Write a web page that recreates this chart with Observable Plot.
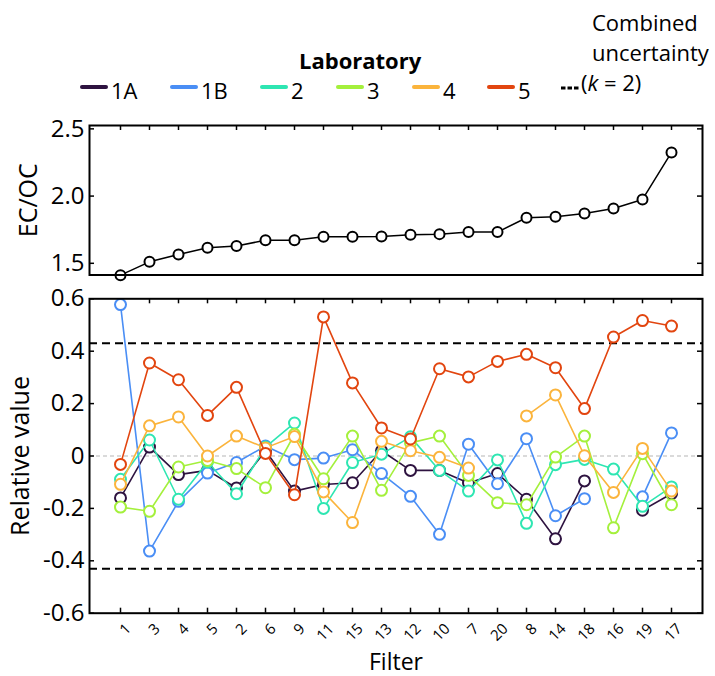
<!DOCTYPE html>
<html><head><meta charset="utf-8">
<script src="https://cdn.jsdelivr.net/npm/d3@7"></script>
<script src="https://cdn.jsdelivr.net/npm/@observablehq/plot@0.6"></script>
<style>
body{margin:0;background:#fff;font-family:"Open Sans",sans-serif;color:#000;}
#root{position:relative;width:715px;height:676px;overflow:hidden;}
.abs{position:absolute;white-space:nowrap;}
.lg{font-size:22px;line-height:22px;}
</style></head><body><div id="root"></div>
<script>
const filters = ["1","3","4","5","2","6","9","11","15","13","12","10","7","20","8","14","18","16","19","17"];
const ecoc = [1.412,1.511,1.566,1.615,1.628,1.672,1.672,1.697,1.697,1.700,1.712,1.717,1.732,1.732,1.839,1.846,1.871,1.908,1.975,2.325];
const lab1A = [-0.160,0.034,-0.071,-0.055,-0.122,0.020,-0.134,-0.109,-0.102,0.020,-0.055,-0.055,-0.103,-0.067,-0.165,-0.316,-0.095,null,-0.207,-0.144];
const lab1B = [0.578,-0.363,-0.173,-0.065,-0.025,0.038,-0.014,-0.008,0.024,-0.067,-0.154,-0.299,0.045,-0.106,0.066,-0.228,-0.163,null,-0.156,0.088];
const lab2  = [-0.089,0.061,-0.165,-0.023,-0.144,0.034,0.126,-0.200,-0.025,0.007,0.073,-0.055,-0.134,-0.015,-0.257,-0.033,-0.013,-0.050,-0.192,-0.118];
const lab3  = [-0.195,-0.211,-0.042,-0.017,-0.048,-0.121,0.083,-0.087,0.076,-0.131,0.050,0.076,-0.074,-0.178,-0.186,-0.004,0.076,-0.274,0.009,-0.186];
const lab4  = [-0.108,0.115,0.149,0.000,0.076,0.031,0.074,-0.137,-0.254,0.056,0.020,-0.005,-0.046,null,0.153,0.233,0.001,-0.139,0.029,-0.134];
const lab5  = [-0.032,0.355,0.291,0.155,0.262,0.010,-0.148,0.531,0.279,0.107,0.065,0.333,0.302,0.361,0.388,0.337,0.181,0.454,0.517,0.496];
const labNames = ["1A","1B","2","3","4","5"];
const labValues = [lab1A, lab1B, lab2, lab3, lab4, lab5];
const labColors = ["#2e1340","#4a8ef5","#2ee6b2","#a4f03c","#fbb43c","#e2450f"];
const topTicks = [1.5, 2.0, 2.5];
const bottomTicks = [-0.6,-0.4,-0.2,0,0.2,0.4,0.6];
const uncertainty = 0.43;

const root = document.getElementById("root");
const FONT = "'Open Sans', sans-serif";
const W = 715, ML = 89, MR = 13;
const frameW = W - ML - MR;

function place(el, left, top) {
  el.style.position = "absolute"; el.style.left = left + "px"; el.style.top = top + "px";
  root.appendChild(el);
}
function addText(txt, left, top, extra) {
  const d = document.createElement("div");
  d.className = "abs lg"; d.innerHTML = txt;
  Object.assign(d.style, extra || {});
  place(d, left, top);
  return d;
}

// ---- Legend ----
addText("Laboratory", 299, 49, {fontWeight: "bold"});
const legendX = [80, 170, 260, 336, 412, 487];
labNames.forEach((n, i) => {
  const sw = document.createElement("div");
  Object.assign(sw.style, {width: "28px", height: "4px", borderRadius: "2px", background: labColors[i]});
  place(sw, legendX[i], 85);
  addText(n, legendX[i] + 31, 79);
});
const dash = document.createElementNS("http://www.w3.org/2000/svg", "svg");
dash.setAttribute("width", 18); dash.setAttribute("height", 6);
dash.innerHTML = '<line x1="0" y1="3" x2="18" y2="3" stroke="black" stroke-width="3" stroke-dasharray="4.5,2"/>';
place(dash, 561, 85);
addText("Combined", 592, 11);
addText("uncertainty", 592, 41);
addText("(<i>k</i> = 2)", 581, 71);

// ---- Top panel ----
const topH = 175, topMT = 15, topMB = 10.5;
const topFH = topH - topMT - topMB;
const topPlot = Plot.plot({
  width: W, height: topH, marginLeft: ML, marginRight: MR, marginTop: topMT, marginBottom: topMB,
  style: {fontFamily: FONT, fontSize: "24px", color: "black", background: "transparent", overflow: "visible"},
  x: {type: "point", domain: filters, padding: 1, axis: null},
  y: {domain: [1.413, 2.525], axis: null},
  marks: [
    Plot.axisY(topTicks, {anchor: "left", tickSize: 0, tickPadding: 5, tickFormat: d => d.toFixed(1), fontSize: 24, label: null}),
    Plot.axisY([], {anchor: "left", tickSize: 0, fontSize: 25,
      label: "EC/OC", labelAnchor: "center", labelArrow: "none", labelOffset: 70}),
    Plot.tickY(topTicks, {y: d => d, insetRight: frameW - 5, stroke: "black", strokeWidth: 1.5}),
    Plot.tickY(topTicks, {y: d => d, insetLeft: frameW - 5, stroke: "black", strokeWidth: 1.5}),
    Plot.tickX(filters, {x: d => d, insetBottom: topFH - 5, stroke: "black", strokeWidth: 1.5}),
    Plot.line(filters, {x: d => d, y: (d, i) => ecoc[i], stroke: "black", strokeWidth: 1.5}),
    Plot.dot(filters, {x: d => d, y: (d, i) => ecoc[i], r: 5, stroke: "black", strokeWidth: 2, fill: "white"}),
    Plot.frame({stroke: "black", strokeWidth: 2})
  ]
});
place(topPlot, 0, 110);

// ---- Bottom panel ----
const botH = 391, botMT = 13.3, botMB = 63.3;
const botFH = botH - botMT - botMB;
const seriesMarks = [];
labNames.forEach((n, i) => {
  const vals = labValues[i];
  seriesMarks.push(Plot.line(filters, {x: d => d, y: (d, j) => vals[j], stroke: labColors[i], strokeWidth: 1.6}));
  seriesMarks.push(Plot.dot(filters, {x: d => d, y: (d, j) => vals[j], r: 5.5, stroke: labColors[i], strokeWidth: 2, fill: "white"}));
});
const botPlot = Plot.plot({
  width: W, height: botH, marginLeft: ML, marginRight: MR, marginTop: botMT, marginBottom: botMB,
  style: {fontFamily: FONT, fontSize: "24px", color: "black", background: "transparent", overflow: "visible"},
  x: {type: "point", domain: filters, padding: 1, axis: null},
  y: {domain: [-0.6, 0.6], axis: null},
  marks: [
    Plot.ruleY([0], {stroke: "#b5b5b5", strokeWidth: 1, strokeDasharray: "4,3"}),
    Plot.ruleY([uncertainty, -uncertainty], {stroke: "black", strokeWidth: 2, strokeDasharray: "8,5"}),
    Plot.axisY(bottomTicks, {anchor: "left", tickSize: 0, tickPadding: 5, fontSize: 24,
      tickFormat: d => d === 0 ? "0" : d.toFixed(1), label: null}),
    Plot.axisY([], {anchor: "left", tickSize: 0, fontSize: 25,
      label: "Relative value", labelAnchor: "center", labelArrow: "none", labelOffset: 78}),
    Plot.tickY(bottomTicks, {y: d => d, insetRight: frameW - 5, stroke: "black", strokeWidth: 1.5}),
    Plot.tickY(bottomTicks, {y: d => d, insetLeft: frameW - 5, stroke: "black", strokeWidth: 1.5}),
    Plot.tickX(filters, {x: d => d, insetBottom: botFH - 5, stroke: "black", strokeWidth: 1.5}),
    Plot.tickX(filters, {x: d => d, insetTop: botFH - 5, stroke: "black", strokeWidth: 1.5}),
    ...seriesMarks,
    Plot.axisX(filters, {anchor: "bottom", tickSize: 0, tickRotate: -45, textAnchor: "end", lineAnchor: "middle",
      tickPadding: 13, fontSize: 15, label: null, dx: 8}),
    Plot.axisX([], {anchor: "bottom", tickSize: 0, label: "Filter", labelAnchor: "center", labelArrow: "none",
      labelOffset: 57, fontSize: 23}),
    Plot.frame({stroke: "black", strokeWidth: 2})
  ]
});
place(botPlot, 0, 285);
</script></body></html>
